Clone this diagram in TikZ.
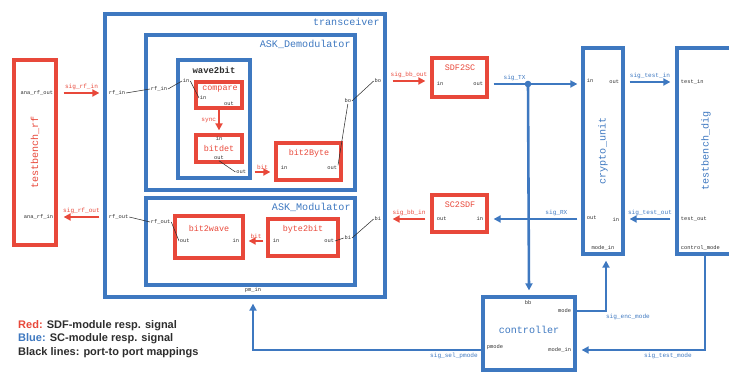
\documentclass[tikz,border=0pt]{standalone}
\usepackage{fontspec}
\setmainfont{Liberation Sans}
\setmonofont{Liberation Mono}
\usetikzlibrary{fit,arrows.meta,calc}
\definecolor{bl}{RGB}{62,120,192}
\definecolor{rd}{RGB}{232,72,58}
\definecolor{tx}{RGB}{45,45,45}
\begin{document}
\begin{tikzpicture}[x=0.03cm,y=-0.03cm,
  blbox/.style={draw=bl, line width=2.8pt, inner sep=0pt},
  rdbox/.style={draw=rd, line width=2.8pt, inner sep=0pt},
  port/.style={font=\fontsize{4.6}{5}\selectfont\ttfamily, inner sep=0.6pt, text=tx},
  sig/.style={font=\fontsize{5.2}{6}\selectfont\ttfamily, inner sep=1.4pt},
  title/.style={font=\fontsize{8.6}{10}\selectfont\ttfamily, text=bl, inner sep=1pt},
  mname/.style={font=\fontsize{7.2}{8}\selectfont\ttfamily, text=rd, inner sep=1pt},
  vname/.style={font=\fontsize{8.6}{10}\selectfont\ttfamily, rotate=90},
  rarr/.style={draw=rd, line width=2.2pt, -{Triangle[length=6pt,width=6pt]}},
  barr/.style={draw=bl, line width=2.2pt, -{Triangle[length=6pt,width=6pt]}},
  map/.style={draw=tx, line width=0.45pt}]
\useasboundingbox (0,0) rectangle (729,374);

% ---------- testbench_rf ----------
\node[rdbox, fit={(14,60)(56,245)}] (tbrf) {};
\node[vname, text=rd] (tbrfl) at (tbrf.center) {testbench\_rf};
\node[port, anchor=east] (tbro) at (54,93) {ana\_rf\_out};
\node[port, anchor=east] (tbri) at (54,217) {ana\_rf\_in};

% ---------- transceiver ----------
\node[blbox, fit={(105,14)(385,297)}] (trx) {};
\node[title, anchor=north east] (trxl) at (381,17) {transceiver};
\node[port, anchor=west] (trxri) at (108,93) {rf\_in};
\node[port, anchor=west] (trxro) at (108,217) {rf\_out};
\node[port, anchor=east] (trxbo) at (382,81) {bo};
\node[port, anchor=east] (trxbi) at (382,219) {bi};
\node[port, anchor=south] (trxpm) at (253,294) {pm\_in};

% ---------- ASK_Demodulator ----------
\node[blbox, fit={(146,35)(355,190)}] (dem) {};
\node[title, anchor=north east] (deml) at (352,39) {ASK\_Demodulator};
\node[port, anchor=west] (demri) at (150,89) {rf\_in};
\node[port, anchor=east] (dembo) at (352,101) {bo};

\node[blbox, fit={(178,60)(250,178)}] (w2b) {};
\node[font=\fontsize{7.6}{8}\selectfont\ttfamily\bfseries, text=tx] (w2bl) at (214,70) {wave2bit};
\node[port, anchor=west] (w2bi) at (182,81) {in};
\node[port, anchor=east] (w2bo) at (247,172) {out};

\node[rdbox, fit={(196,82)(242,108)}] (cmp) {};
\node[mname] (cmpl) at (220,89) {compare};
\node[port, anchor=west] (cmpi) at (199,98) {in};
\node[port] (cmpo) at (229,104) {out};

\node[rdbox, fit={(196,135)(242,162)}] (bd) {};
\node[mname] (bdl) at (219,148) {bitdet};
\node[port] (bdi) at (219,139) {in};
\node[port] (bdo) at (219,158) {out};

\node[rdbox, fit={(276,143)(341,180)}] (b2B) {};
\node[mname] (b2Bl) at (309,153) {bit2Byte};
\node[port, anchor=west] (b2Bi) at (280,168) {in};
\node[port, anchor=east] (b2Bo) at (338,168) {out};

% ---------- ASK_Modulator ----------
\node[blbox, fit={(146,198)(355,285)}] (mod) {};
\node[title, anchor=north east] (modl) at (352,202) {ASK\_Modulator};
\node[port, anchor=west] (modro) at (150,222) {rf\_out};
\node[port, anchor=east] (modbi) at (352,238) {bi};

\node[rdbox, fit={(175,216)(243,258)}] (b2w) {};
\node[mname] (b2wl) at (209,228) {bit2wave};
\node[port, anchor=west] (b2wo) at (179,241) {out};
\node[port, anchor=east] (b2wi) at (240,241) {in};

\node[rdbox, fit={(268,219)(338,256)}] (B2b) {};
\node[mname] (B2bl) at (303,229) {byte2bit};
\node[port, anchor=west] (B2bi) at (272,241) {in};
\node[port, anchor=east] (B2bo) at (335,241) {out};

% ---------- converters ----------
\node[rdbox, fit={(432,58)(487,97)}] (s2c) {};
\node[mname] (s2cl) at (460,68) {SDF2SC};
\node[port, anchor=west] (s2ci) at (436,84) {in};
\node[port, anchor=east] (s2co) at (484,84) {out};

\node[rdbox, fit={(432,195)(487,232)}] (c2s) {};
\node[mname] (c2sl) at (460,205) {SC2SDF};
\node[port, anchor=west] (c2so) at (436,219) {out};
\node[port, anchor=east] (c2si) at (484,219) {in};

% ---------- crypto_unit ----------
\node[blbox, fit={(583,48)(623,254)}] (cu) {};
\node[vname, text=bl] (cul) at (cu.center) {crypto\_unit};
\node[port, anchor=west] (cui1) at (586,81) {in};
\node[port, anchor=east] (cuo1) at (620,82) {out};
\node[port, anchor=west] (cuo2) at (586,218) {out};
\node[port, anchor=east] (cui2) at (620,220) {in};
\node[port] (cumi) at (603,248) {mode\_in};

% ---------- testbench_dig ----------
\node[blbox, fit={(677,48)(745,254)}] (tbd) {};
\node[vname, text=bl] (tbdl) at (706,151) {testbench\_dig};
\node[port, anchor=west] (tbdi) at (680,82) {test\_in};
\node[port, anchor=west] (tbdo) at (680,219) {test\_out};
\node[port, anchor=west] (tbdm) at (680,248) {control\_mode};

% ---------- controller ----------
\node[blbox, fit={(483,297)(575,370)}] (ctl) {};
\node[title] (ctll) at (529,330) {controller};
\node[port] (ctbb) at (528,303) {bb};
\node[port, anchor=east] (ctmo) at (572,311) {mode};
\node[port, anchor=east] (ctmi) at (572,350) {mode\_in};
\node[port, anchor=west] (ctpm) at (486,347) {pmode};

% ---------- red signals ----------
\draw[rarr] ($(tbrf.east |- tbro)+(6,0)$) -- node[sig, above, text=rd] {sig\_rf\_in} ($(trx.west |- tbro)+(-4,0)$);
\draw[rarr] ($(trx.west |- tbri)+(-4,0)$) -- node[sig, above, text=rd] {sig\_rf\_out} ($(tbrf.east |- tbri)+(6,0)$);
\draw[rarr] ($(trx.east |- trxbo)+(6,0)$) -- node[sig, above, text=rd] {sig\_bb\_out} ($(s2c.west |- trxbo)+(-5,0)$);
\draw[rarr] ($(c2s.west |- trxbi)+(-5,0)$) -- node[sig, above, text=rd] {sig\_bb\_in} ($(trx.east |- trxbi)+(6,0)$);
\draw[rarr] (cmp.south) -- node[sig, left, text=rd] {sync} ($(bd.north)+(0,-3)$);
\draw[rarr] ($(w2b.east |- w2bo)+(3,0)$) -- node[sig, above, text=rd] {bit} ($(b2B.west |- w2bo)+(-4,0)$);
\draw[rarr] ($(B2b.west |- B2bi)+(-3,0)$) -- node[sig, above, text=rd] {bit} ($(b2w.east |- B2bi)+(4,0)$);

% ---------- port-to-port mappings ----------
\draw[map] (trxri.east) -- (demri.west);
\draw[map] (demri.east) -- (w2bi.west);
\draw[map] (w2bi.east) -- (cmpi.west);
\draw[map] (bdo.south) -- (w2bo.west);
\draw[map] (b2Bo.north east) -- (dembo.south);
\draw[map] (dembo.east) -- (trxbo.west);
\draw[map] (trxro.east) -- (modro.west);
\draw[map] (modro.east) -- (b2wo.west);
\draw[map] (B2bo.east) -- (modbi.west);
\draw[map] (modbi.east) -- (trxbi.west);

% ---------- blue signals ----------
\coordinate (junc) at (ctbb |- s2co);
\draw[barr] ($(s2c.east |- s2co)+(5,0)$) -- node[sig, above, text=bl, pos=0.25] {sig\_TX} ($(cu.west |- s2co)+(-4,0)$);
\fill[bl] (junc) circle (2.8pt);
\draw[barr] (junc) -- ($(ctl.north)+(0,-5)$);
\draw[barr] ($(cu.west |- c2si)+(-4,0)$) -- node[sig, above, text=bl, pos=0.25] {sig\_RX} ($(c2s.east |- c2si)+(5,0)$);
\draw[barr] ($(cu.east |- cuo1)+(5,0)$) -- node[sig, above, text=bl] {sig\_test\_in} ($(tbd.west |- cuo1)+(-5,0)$);
\draw[barr] ($(tbd.west |- tbdo)+(-5,0)$) -- node[sig, above, text=bl] {sig\_test\_out} ($(cu.east |- tbdo)+(5,0)$);
\coordinate (cmc) at (606,311);
\draw[barr] (ctl.east |- ctmo) -- node[sig, below, text=bl, pos=0.9, anchor=north west] {sig\_enc\_mode} (cmc) -- ($(cmc |- cu.south)+(0,5)$);
\coordinate (tmc) at (705,350);
\draw[barr] (tmc |- tbd.south) -- (tmc) -- node[sig, below, text=bl, pos=0.3] {sig\_test\_mode} ($(ctl.east |- tmc)+(5,0)$);
\coordinate (pmc) at (253,350);
\draw[barr] (ctl.west |- pmc) -- node[sig, below, text=bl, pos=0.12] {sig\_sel\_pmode} (pmc) -- ($(trx.south -| pmc)+(0,5)$);

% ---------- legend ----------
\node[anchor=west, align=left, text=tx, inner sep=0pt,
      font=\fontsize{9.4}{11.5}\selectfont\bfseries] (legend) at (18,339)
  {\textcolor{rd}{Red:} SDF-module resp. signal\\
   \textcolor{bl}{Blue:} SC-module resp. signal\\
   Black lines: port-to port mappings};
\end{tikzpicture}
\end{document}
